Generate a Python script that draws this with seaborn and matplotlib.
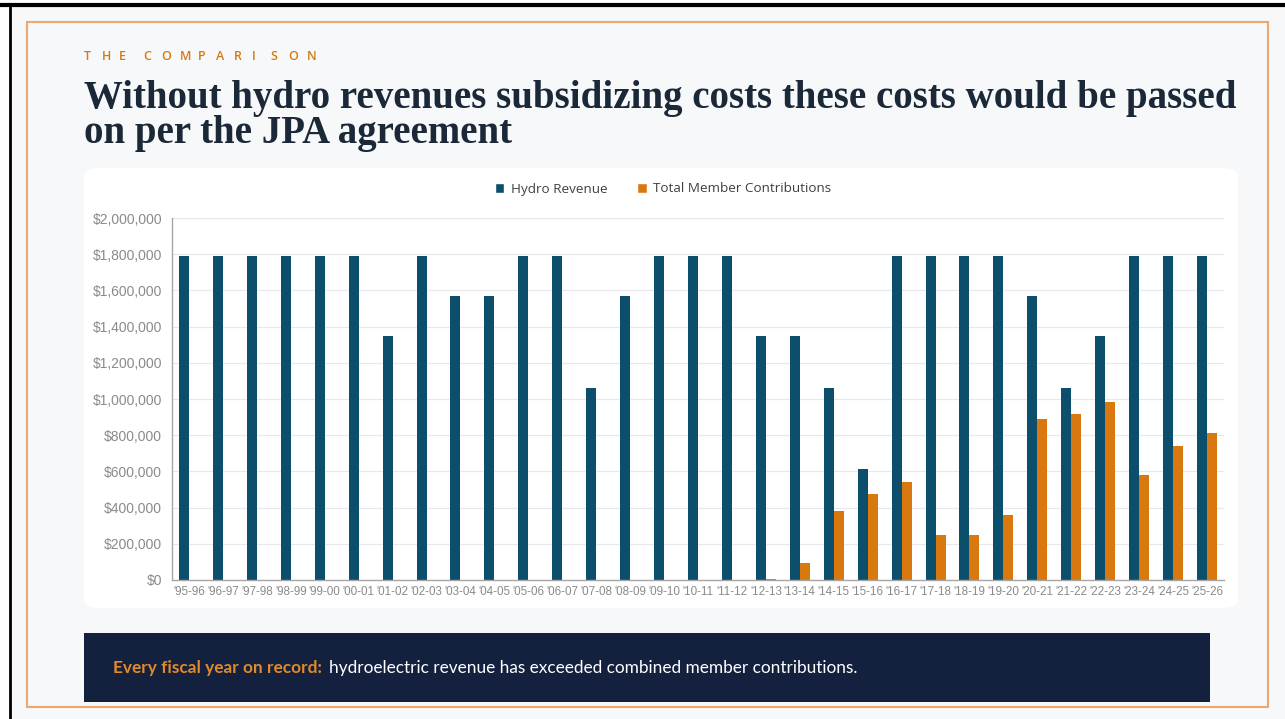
import matplotlib
matplotlib.use("Agg")
import matplotlib.pyplot as plt
from matplotlib.patches import FancyBboxPatch, Rectangle
from matplotlib.lines import Line2D
from matplotlib.ticker import FuncFormatter, FixedLocator
import pandas as pd
import seaborn as sns

# ---------------- data ----------------
years = ["'95-96", "'96-97", "'97-98", "'98-99", "'99-00", "'00-01", "'01-02", "'02-03",
         "'03-04", "'04-05", "'05-06", "'06-07", "'07-08", "'08-09", "'09-10", "'10-11",
         "'11-12", "'12-13", "'13-14", "'14-15", "'15-16", "'16-17", "'17-18", "'18-19",
         "'19-20", "'20-21", "'21-22", "'22-23", "'23-24", "'24-25", "'25-26"]
hydro_revenue = [1790000, 1790000, 1790000, 1790000, 1790000, 1790000, 1350000, 1790000,
                 1570000, 1570000, 1790000, 1790000, 1060000, 1570000, 1790000, 1790000,
                 1790000, 1350000, 1350000, 1060000, 615000, 1790000, 1790000, 1790000,
                 1790000, 1570000, 1060000, 1350000, 1790000, 1790000, 1790000]
member_contrib = [0, 0, 0, 0, 0, 0, 0, 0,
                  0, 0, 0, 0, 0, 0, 0, 0,
                  0, 4000, 95000, 380000, 475000, 540000, 248000, 248000,
                  357000, 889000, 917000, 982000, 580000, 740000, 814000]
series_names = ["Hydro Revenue", "Total Member Contributions"]
y_ticks = [0, 200000, 400000, 600000, 800000, 1000000, 1200000, 1400000,
           1600000, 1800000, 2000000]

kicker_words = ["THE", "COMPARISON"]
title_lines = ["Without hydro revenues subsidizing costs these costs would be passed",
               "on per the JPA agreement"]
footer_bold = "Every fiscal year on record:"
footer_text = "hydroelectric revenue has exceeded combined member contributions."

# ---------------- style ----------------
BLUE = "#0b4f6c"
ORANGE = "#d9780e"
NAVY = "#13203e"
TITLE_C = "#1b2838"
PAGE_BG = "#f7f8fa"
ORANGE_BORDER = "#f0a56a"

W, H = 1285, 719
sns.set_theme(style="white")
plt.rcParams["font.family"] = ["Liberation Sans", "DejaVu Sans"]

fig = plt.figure(figsize=(W / 100, H / 100), dpi=100)
fig.patch.set_facecolor("white")


def fx(px):
    return px / W


def fy(py):
    return 1 - py / H


# page background + frames
fig.patches.append(Rectangle((fx(10), 0), 1 - fx(10), fy(6), transform=fig.transFigure,
                             facecolor=PAGE_BG, edgecolor="none", zorder=0))
fig.lines.append(Line2D([0, 1], [fy(5), fy(5)], transform=fig.transFigure,
                        color="black", lw=3, zorder=1))
fig.lines.append(Line2D([fx(9.5), fx(9.5)], [0, fy(5)], transform=fig.transFigure,
                        color="black", lw=2, zorder=1))
fig.patches.append(Rectangle((fx(27), fy(707)), fx(1268 - 27), (707 - 22) / H,
                             transform=fig.transFigure, facecolor="none",
                             edgecolor=ORANGE_BORDER, lw=1.5, zorder=1))

# white chart card
fig.patches.append(FancyBboxPatch((fx(84), fy(608)), fx(1238 - 84), (608 - 168) / H,
                                  boxstyle="round,pad=0,rounding_size=0.012",
                                  transform=fig.transFigure, facecolor="white",
                                  edgecolor="none", zorder=1))

# footer box
fig.patches.append(Rectangle((fx(84), fy(702)), fx(1210 - 84), (702 - 633) / H,
                             transform=fig.transFigure, facecolor=NAVY,
                             edgecolor="none", zorder=1))

# kicker, letter-spaced
word_starts = [84, 143]
word_steps = [17.5, 18.2]
for word, x0, step in zip(kicker_words, word_starts, word_steps):
    for i, ch in enumerate(word):
        fig.text(fx(x0 + i * step), fy(57), ch, color=ORANGE, fontsize=9, fontweight=600,
                 family=["Open Sans", "DejaVu Sans"], va="center", ha="left")

fig.text(fx(84), fy(108), title_lines[0], color=TITLE_C, fontsize=28,
         fontweight="bold", family=["Liberation Serif", "DejaVu Serif"], va="baseline")
fig.text(fx(84), fy(143), title_lines[1], color=TITLE_C, fontsize=28,
         fontweight="bold", family=["Liberation Serif", "DejaVu Serif"], va="baseline")
fig.text(fx(113), fy(668), footer_bold, color="#e08a2a", fontsize=12.4, fontweight="bold",
         family=["Lato", "DejaVu Sans"], va="center", ha="left")
fig.text(fx(329), fy(668), footer_text, color="white", fontsize=12.4,
         family=["Lato", "DejaVu Sans"], va="center", ha="left")

# ---------------- chart ----------------
ax = fig.add_axes([fx(172), fy(580), fx(1224 - 172), (580 - 218) / H])
ax.set_zorder(3)
ax.patch.set_alpha(0)

df = pd.DataFrame({
    "year": years * 2,
    "value": hydro_revenue + member_contrib,
    "series": [series_names[0]] * len(years) + [series_names[1]] * len(years),
})
sns.barplot(data=df, x="year", y="value", hue="series", order=years,
            hue_order=series_names, palette=[BLUE, ORANGE], width=0.59,
            saturation=1, ax=ax, legend=False, linewidth=0)

ax.set_ylim(0, 2000000)
ax.set_xlim(-0.5, len(years) - 0.5)
ax.yaxis.set_major_locator(FixedLocator(y_ticks))
ax.yaxis.set_major_formatter(FuncFormatter(lambda v, p: f"${v:,.0f}"))
ax.grid(axis="y", color="#e6eaee", lw=0.9)
ax.set_axisbelow(True)
for s in ["top", "right"]:
    ax.spines[s].set_visible(False)
for s in ["left", "bottom"]:
    ax.spines[s].set_color("#a6a6a6")
    ax.spines[s].set_linewidth(1)
ax.set_xlabel("")
ax.set_ylabel("")
ax.tick_params(axis="y", length=4, width=0.8, color="#a6a6a6", labelsize=10,
               labelcolor="#8a8a8a", pad=3)
ax.tick_params(axis="x", which="major", length=0, labelsize=8.4, labelcolor="#8a8a8a", pad=4)
ax.set_xticks([i + 0.5 for i in range(-1, len(years))], minor=True)
ax.tick_params(axis="x", which="minor", length=4, width=0.8, color="#a6a6a6")

handles = [Rectangle((0, 0), 1, 1, facecolor=c) for c in [BLUE, ORANGE]]
fig.legend(handles, series_names, loc="center", bbox_to_anchor=(fx(663), fy(189)),
           ncol=2, frameon=False, handlelength=0.7, handleheight=0.7,
           handletextpad=0.5, columnspacing=2.2,
           prop={"family": ["Open Sans", "DejaVu Sans"], "size": 9.7})
for t in fig.legends[0].get_texts():
    t.set_color("#404040")

fig.savefig("out.png", dpi=100)
